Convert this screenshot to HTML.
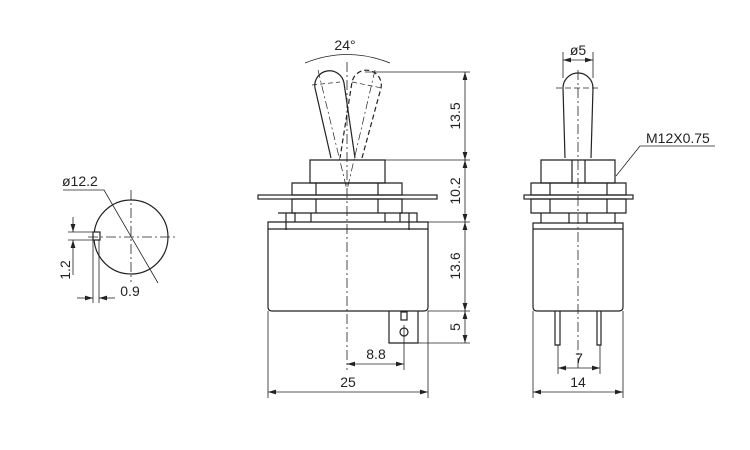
<!DOCTYPE html>
<html><head><meta charset="utf-8"><style>html,body{margin:0;padding:0;background:#fff}svg{display:block}text{font-family:"Liberation Sans",sans-serif;font-size:14px;fill:#222}</style></head><body>
<svg width="750" height="450" viewBox="0 0 750 450" xmlns="http://www.w3.org/2000/svg">
<defs><marker id="a" viewBox="0 0 10 6" refX="10" refY="3" markerWidth="8" markerHeight="5" markerUnits="userSpaceOnUse" orient="auto-start-reverse"><path d="M0,0L10,3L0,6z" fill="#222"/></marker></defs>
<g fill="none" stroke="#222" stroke-width="1.2">
<!-- left view -->
<circle cx="131" cy="237" r="37"/>
<rect x="93" y="232" width="7" height="8" fill="#fff"/>
<path d="M88,237H178" stroke-dasharray="10,3,2,3" stroke-width="0.8"/>
<path d="M131,190V282" stroke-dasharray="10,3,2,3" stroke-width="0.8"/>
<path d="M63,190H104L158,283" stroke-width="0.8"/>
<path d="M68,232H95M68,240H95M93,240V303M99,240V303" stroke-width="0.8"/>
</g>
<g stroke="#222" stroke-width="0.8" fill="none">
<line x1="73" y1="217" x2="73" y2="232" marker-end="url(#a)"/>
<line x1="73" y1="275" x2="73" y2="240" marker-end="url(#a)"/>
<line x1="77" y1="298" x2="93" y2="298" marker-end="url(#a)"/>
<line x1="115" y1="298" x2="99" y2="298" marker-end="url(#a)"/>
<!-- middle dims -->
<line x1="465" y1="72" x2="465" y2="160" marker-start="url(#a)" marker-end="url(#a)"/>
<line x1="465" y1="160" x2="465" y2="222" marker-start="url(#a)" marker-end="url(#a)"/>
<line x1="465" y1="222" x2="465" y2="311" marker-start="url(#a)" marker-end="url(#a)"/>
<line x1="465" y1="311" x2="465" y2="343" marker-start="url(#a)" marker-end="url(#a)"/>
<line x1="347" y1="364" x2="404" y2="364" marker-start="url(#a)" marker-end="url(#a)"/>
<line x1="268" y1="392" x2="428" y2="392" marker-start="url(#a)" marker-end="url(#a)"/>
<!-- right dims -->
<line x1="563" y1="60" x2="593" y2="60" marker-start="url(#a)" marker-end="url(#a)"/>
<line x1="558" y1="368" x2="600" y2="368" marker-start="url(#a)" marker-end="url(#a)"/>
<line x1="533" y1="392" x2="623" y2="392" marker-start="url(#a)" marker-end="url(#a)"/>
</g>
<g fill="none" stroke="#222" stroke-width="1.2">
<!-- middle view -->
<path d="M331,158L315,88A14,14 0 0 1 344,83L355,158" />
<path d="M362,158L381,88A14,14 0 0 0 352,82L340,158" stroke-dasharray="5,3"/>
<path d="M312,85L340,82M352,82L382,88" stroke-dasharray="5,3" stroke-width="0.7"/>
<path d="M318,70L347,190M375,70L347,190" stroke-dasharray="8,3,2,3" stroke-width="0.7"/>
<path d="M305,63Q347,46 390,63" stroke-width="0.8"/>
<path d="M310,160H385V183H310Z"/>
<path d="M292,183H402V195H292Z M316,183V195M378,183V195"/>
<rect x="258" y="195" width="179" height="4"/>
<path d="M292,199H402V213H292Z M316,199V213M378,199V213"/>
<path d="M278,213H295V222M400,222V213H417V222M311,213V222M385,213V222M286,213V230M409,213V230"/>
<path d="M268,222H428V307Q428,311 424,311H272Q268,311 268,307Z"/>
<path d="M268,229H428"/>
<path d="M389,311V343H418V311"/>
<rect x="401" y="312" width="6" height="8"/>
<circle cx="404" cy="332" r="4"/>
<path d="M347,62V370" stroke-dasharray="10,3,2,3" stroke-width="0.8"/>
<path d="M404,325V370" stroke-width="0.8"/>
<path d="M365,72H470M385,160H470M428,222H470M428,311H470M418,343H470M268,311V398M428,311V398" stroke-width="0.8"/>
<!-- right view -->
<path d="M565,158L563,88A15,15 0 0 1 593,88L591,158"/>
<path d="M556,88H600" stroke-dasharray="6,3" stroke-width="0.7"/>
<path d="M578,70V370" stroke-dasharray="10,3,2,3" stroke-width="0.8"/>
<path d="M541,160H615V183H541Z M572,160V183M585,160V183"/>
<path d="M531,183H626V195H531Z M550,183V195M607,183V195"/>
<rect x="524" y="195" width="109" height="4"/>
<path d="M531,199H626V213H531Z M550,199V213M607,199V213"/>
<path d="M541,213V223M615,213V223M569,213V223M587,213V223"/>
<path d="M533,223H623V307Q623,311 619,311H537Q533,311 533,307Z"/>
<path d="M533,229H623"/>
<path d="M555,311V345H560V311M597,311V345H601V311"/>
<path d="M563,52V78M593,52V78M558,345V374M600,345V374M533,311V398M623,311V398" stroke-width="0.8"/>
<path d="M715,146H640L616,176" stroke-width="0.8"/>
</g>
<text x="62" y="186">ø12.2</text>
<text x="70" y="270" transform="rotate(-90 70 270)" text-anchor="middle">1.2</text>
<text x="130" y="296" text-anchor="middle">0.9</text>
<text x="345" y="50" text-anchor="middle">24°</text>
<text x="460" y="116" transform="rotate(-90 460 116)" text-anchor="middle">13.5</text>
<text x="460" y="191" transform="rotate(-90 460 191)" text-anchor="middle">10.2</text>
<text x="460" y="266" transform="rotate(-90 460 266)" text-anchor="middle">13.6</text>
<text x="460" y="327" transform="rotate(-90 460 327)" text-anchor="middle">5</text>
<text x="376" y="359" text-anchor="middle">8.8</text>
<text x="348" y="387" text-anchor="middle">25</text>
<text x="578" y="55" text-anchor="middle">ø5</text>
<text x="646" y="143">M12X0.75</text>
<text x="579" y="363" text-anchor="middle">7</text>
<text x="578" y="387" text-anchor="middle">14</text>
</svg>
</body></html>
